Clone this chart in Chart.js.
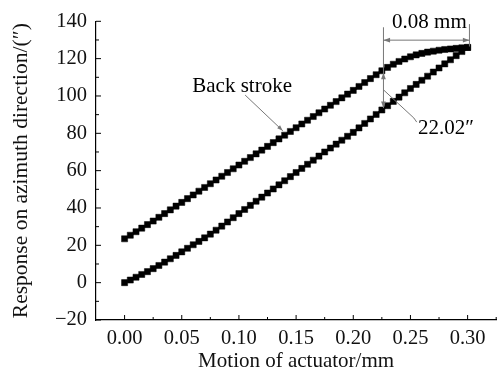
<!DOCTYPE html>
<html>
<head>
<meta charset="utf-8">
<script src="https://cdn.jsdelivr.net/npm/chart.js@4/dist/chart.umd.min.js"></script>
<style>
  html, body { margin: 0; padding: 0; background: #fff; }
</style>
</head>
<body>
<canvas id="hysteresisChart" width="501" height="376"></canvas>
<script>
// actuator motion (mm), one sample every 0.005 mm
var motion = [0,0.005,0.01,0.015,0.02,0.025,0.03,0.035,0.04,0.045,0.05,0.055,0.06,0.065,0.07,0.075,0.08,0.085,0.09,0.095,
  0.1,0.105,0.11,0.115,0.12,0.125,0.13,0.135,0.14,0.145,0.15,0.155,0.16,0.165,0.17,0.175,0.18,0.185,0.19,0.195,
  0.2,0.205,0.21,0.215,0.22,0.225,0.23,0.235,0.24,0.245,0.25,0.255,0.26,0.265,0.27,0.275,0.28,0.285,0.29,0.295,0.3];
// forward stroke response (")
var forward = [0,1.4,2.9,4.4,5.9,7.5,9.2,11.0,12.8,14.6,16.5,18.4,20.3,22.1,24.0,26.0,28.1,30.3,32.5,34.8,
  37.0,39.2,41.4,43.6,45.8,48.0,50.2,52.4,54.6,56.8,59.0,61.2,63.4,65.6,67.8,70.0,72.1,74.2,76.3,78.4,
  80.5,82.9,85.3,87.7,90.1,92.5,94.8,97.1,99.4,101.7,104.0,106.2,108.4,110.6,112.8,115.0,117.2,119.4,121.6,123.8,126.0];
// back stroke response (")
var back = [23.5,25.4,27.3,29.2,31.1,33.0,35.0,37.0,39.0,41.0,43.0,45.0,47.0,49.0,51.0,53.0,55.0,57.0,59.0,61.0,
  63.0,65.0,67.0,69.0,71.0,73.0,75.0,77.0,79.0,81.0,83.0,85.0,87.0,89.0,91.0,93.0,95.0,97.0,99.0,101.0,
  103.0,105.1,107.2,109.3,111.4,113.5,115.3,117.0,118.5,119.8,121.0,122.0,122.8,123.5,124.0,124.5,124.9,125.2,125.5,125.8,126.0];

var xTicks = [0, 0.05, 0.1, 0.15, 0.2, 0.25, 0.3];
var yTicks = [-20, 0, 20, 40, 60, 80, 100, 120, 140];

var serif = "'Liberation Serif', 'Times New Roman', serif";

function pts(ys) {
  return motion.map(function (x, i) { return { x: x, y: ys[i] }; });
}

function arrowHead(ctx, x1, y1, x2, y2, size) {
  var a = Math.atan2(y2 - y1, x2 - x1);
  ctx.beginPath();
  ctx.moveTo(x2, y2);
  ctx.lineTo(x2 - size * Math.cos(a - 0.35), y2 - size * Math.sin(a - 0.35));
  ctx.lineTo(x2 - size * Math.cos(a + 0.35), y2 - size * Math.sin(a + 0.35));
  ctx.closePath();
  ctx.fill();
}

function line(ctx, x1, y1, x2, y2) {
  ctx.beginPath();
  ctx.moveTo(x1, y1);
  ctx.lineTo(x2, y2);
  ctx.stroke();
}

// inward tick marks plus the dimension annotations
var decorations = {
  id: 'decorations',
  afterDraw: function (chart) {
    var ctx = chart.ctx, xs = chart.scales.x, ys = chart.scales.y;
    var X = function (v) { return xs.getPixelForValue(v); };
    var Y = function (v) { return ys.getPixelForValue(v); };
    var left = chart.chartArea.left, bottom = chart.chartArea.bottom;
    ctx.save();
    ctx.strokeStyle = '#000';
    ctx.lineWidth = 1;
    yTicks.forEach(function (v, i) {
      line(ctx, left, Y(v), left + 5, Y(v));
      if (i < yTicks.length - 1) line(ctx, left, Y(v + 10), left + 3, Y(v + 10));
    });
    xTicks.forEach(function (v) {
      line(ctx, X(v), bottom, X(v), bottom - 5);
      line(ctx, X(v + 0.025), bottom, X(v + 0.025), bottom - 3);
    });

    // annotations
    ctx.strokeStyle = '#777';
    ctx.fillStyle = '#777';
    ctx.lineWidth = 1;
    // Back stroke leader
    line(ctx, X(0.1054), Y(100.5), X(0.1383), Y(81.4));
    arrowHead(ctx, X(0.1054), Y(100.5), X(0.1383), Y(81.4), 6);
    // 0.08 mm bracket
    line(ctx, X(0.2264), Y(136.8), X(0.2264), Y(93.5));
    line(ctx, X(0.3016), Y(138.5), X(0.3016), Y(126.5));
    line(ctx, X(0.2264), Y(129.9), X(0.3016), Y(129.9));
    arrowHead(ctx, X(0.26), Y(129.9), X(0.2264), Y(129.9), 7);
    arrowHead(ctx, X(0.26), Y(129.9), X(0.3016), Y(129.9), 7);
    // 22.02 dimension between the strokes
    arrowHead(ctx, X(0.2264), Y(103), X(0.2264), Y(112.5), 7);
    arrowHead(ctx, X(0.2264), Y(103), X(0.2264), Y(93.5), 7);
    line(ctx, X(0.2264), Y(103.3), X(0.253), Y(88.2));
    line(ctx, X(0.253), Y(88.2), X(0.2555), Y(86));

    ctx.fillStyle = '#000';
    ctx.font = '21px ' + serif;
    ctx.textBaseline = 'middle';
    ctx.textAlign = 'center';
    ctx.fillText('Back stroke', X(0.1028), Y(105.3));
    ctx.fillText('0.08 mm', X(0.2666), Y(139.5));
    ctx.textAlign = 'left';
    ctx.fillText('22.02\u2033', X(0.2567), Y(82.6));
    ctx.restore();
  }
};

var ctx1 = document.getElementById('hysteresisChart');
var hysteresisChart = new Chart(ctx1, {
  type: 'line',
  data: {
    datasets: [
      {
        label: 'forward stroke',
        data: pts(forward),
        borderColor: '#000',
        backgroundColor: '#000',
        borderWidth: 2,
        pointStyle: 'rect',
        pointRadius: 4.3,
        pointBorderWidth: 0.5,
        fill: false
      },
      {
        label: 'back stroke',
        data: pts(back),
        borderColor: '#000',
        backgroundColor: '#000',
        borderWidth: 2,
        pointStyle: 'rect',
        pointRadius: 4.3,
        pointBorderWidth: 0.5,
        fill: false
      }
    ]
  },
  options: {
    responsive: false,
    animation: false,
    layout: { padding: { top: 19, right: 0, left: 0, bottom: 0 } },
    plugins: { legend: { display: false }, tooltip: { enabled: false } },
    scales: {
      x: {
        type: 'linear',
        min: -0.025,
        max: 0.325,
        afterBuildTicks: function (s) { s.ticks = xTicks.map(function (v) { return { value: v }; }); },
        afterFit: function (s) { s.height = 56; },
        grid: { display: false, drawTicks: false },
        border: { display: true, color: '#000', width: 1.2 },
        ticks: {
          padding: 6,
          color: '#111',
          font: { family: serif, size: 20.5 },
          callback: function (v) { return v.toFixed(2); }
        },
        title: {
          display: true,
          text: 'Motion of actuator/mm',
          color: '#111',
          font: { family: serif, size: 21 },
          padding: { top: 0, bottom: 2 }
        }
      },
      y: {
        min: -20,
        max: 140,
        afterBuildTicks: function (s) { s.ticks = yTicks.map(function (v) { return { value: v }; }); },
        afterFit: function (s) { s.width = 96; },
        grid: { display: false, drawTicks: false },
        border: { display: true, color: '#000', width: 1.2 },
        ticks: {
          padding: 9,
          color: '#111',
          font: { family: serif, size: 20.5 },
          callback: function (v) { return v < 0 ? '\u2212' + Math.abs(v) : String(v); }
        },
        title: {
          display: true,
          text: 'Response on azimuth direction/(\u2033)',
          color: '#111',
          font: { family: serif, size: 21.5 },
          padding: { top: 8, bottom: 0 }
        }
      }
    }
  },
  plugins: [decorations]
});
</script>
</body>
</html>
